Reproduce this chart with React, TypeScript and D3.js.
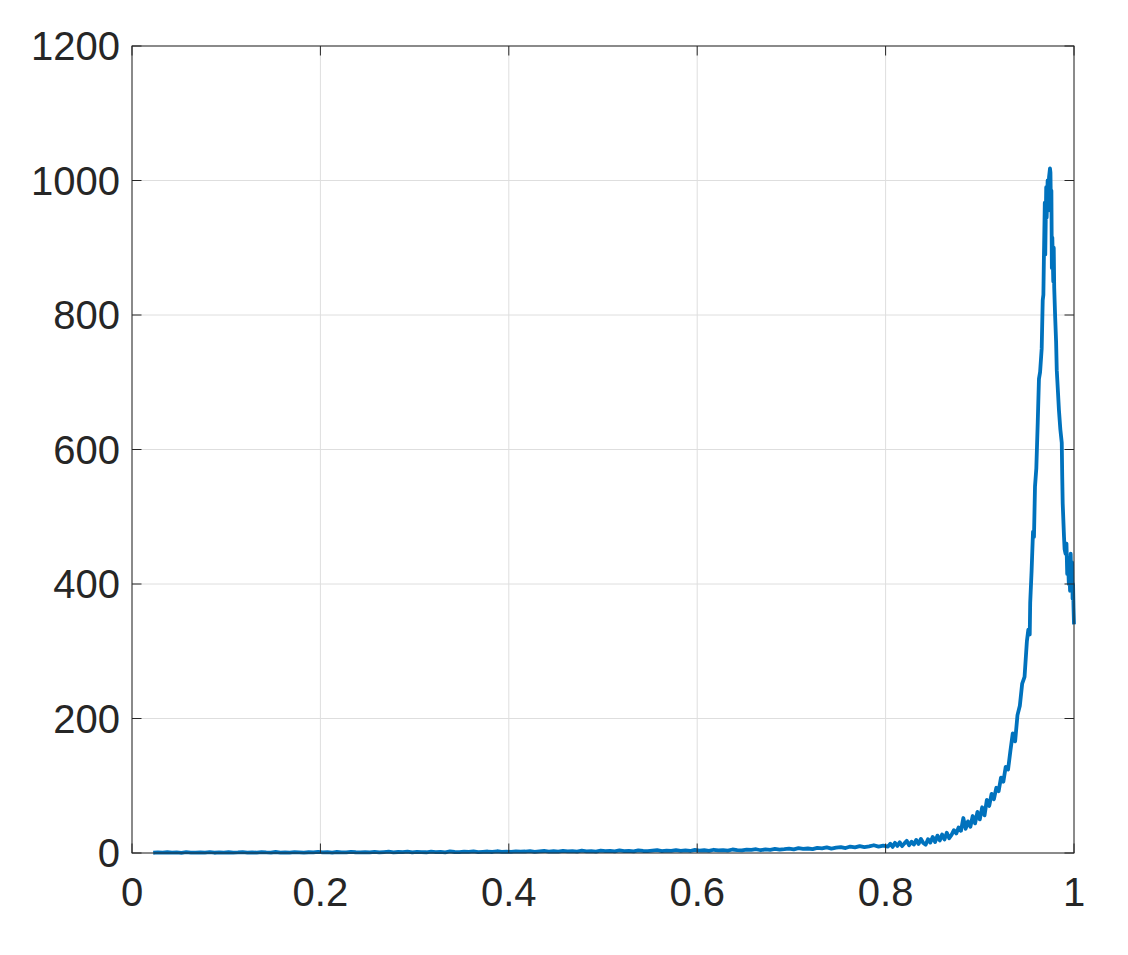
import React from "react";
import * as d3 from "d3";

// ---- data ----
const xTicks = [0, 0.2, 0.4, 0.6, 0.8, 1];
const xTickLabels = ["0", "0.2", "0.4", "0.6", "0.8", "1"];
const yTicks = [0, 200, 400, 600, 800, 1000, 1200];
const yTickLabels = ["0", "200", "400", "600", "800", "1000", "1200"];

// baseline sampled from x = 0.0225 with step 0.005
const baselineStart = 0.0225;
const baselineStep = 0.005;
const baselineY = [
  0.4, 0.8, 0.5, 1.1, 0.6, 0.9, 0.3, 1.2, 0.7, 0.5, 1.0, 0.6, 1.3, 0.4, 0.9, 0.7, 1.1, 0.5, 0.8, 1.4,
  0.6, 0.9, 0.5, 1.2, 0.8, 0.6, 1.5, 0.7, 1.0, 0.5, 1.3, 0.9, 0.6, 1.1, 0.8, 1.6,
  0.9, 1.2, 0.7, 1.5, 1.0, 0.8, 1.8, 1.1, 0.9, 1.4, 1.0, 1.7, 0.8, 1.3, 1.9, 1.0, 1.5, 1.2, 2.1, 0.9,
  1.6, 1.3, 1.1, 2.0, 1.4, 1.8, 1.0, 2.3, 1.5, 1.2, 1.9, 1.6, 2.4, 1.3, 1.8, 2.2, 1.5, 2.6, 1.7, 2.0,
  1.6, 2.5, 1.9, 2.2, 2.8, 1.7, 2.4, 3.0, 2.1, 2.6, 1.9, 3.2, 2.3, 2.8, 2.0, 3.4, 2.5, 2.9, 2.2, 3.6,
  2.7, 3.1, 2.4, 3.8, 2.9, 3.3, 2.5, 4.0, 3.0, 2.7, 3.5, 4.2, 2.8, 3.6, 3.1, 4.4, 3.3, 3.8, 3.0, 4.6,
  3.5, 4.1, 3.2, 4.8, 3.9, 4.4, 3.6, 5.2, 4.2, 3.8, 5.0, 4.5, 5.6, 4.1, 5.3, 4.8, 6.0, 5.1, 5.7, 6.5,
  5.4, 7.2, 6.0, 6.7, 5.8, 7.6, 6.9, 8.4, 6.6, 7.9, 8.8, 7.4, 9.6, 8.3, 10.2, 8.9, 9.8, 11.5, 9.6, 10.8,
];

const riseX = [
  0.8025, 0.805, 0.8075, 0.81, 0.8125, 0.815, 0.8175, 0.82, 0.8225, 0.825, 0.8275, 0.83, 0.8325, 0.835,
  0.8375, 0.84, 0.8425, 0.845, 0.8475, 0.85, 0.8525, 0.855, 0.8575, 0.86, 0.8625, 0.865, 0.8675, 0.87,
  0.8725, 0.875, 0.8775, 0.88, 0.8825, 0.885, 0.8875, 0.89, 0.8925, 0.895, 0.8975, 0.9, 0.9025, 0.905,
  0.9075, 0.91, 0.9125, 0.915, 0.9175, 0.92, 0.9225, 0.925, 0.9275, 0.93, 0.9325, 0.935, 0.9375, 0.94,
  0.9425, 0.945, 0.9475, 0.95, 0.9515, 0.953,
];
const riseY = [
  9.5, 13.8, 9.1, 15.2, 10.6, 16.0, 10.2, 14.3, 18.1, 11.5, 16.8, 12.6, 19.4, 13.5,
  21.0, 14.8, 12.4, 20.6, 15.5, 23.9, 16.4, 25.8, 18.6, 27.5, 20.2, 30.1, 22.0, 27.0,
  34.0, 29.0, 38.0, 33.0, 52.0, 36.0, 47.0, 39.0, 55.0, 44.0, 61.0, 50.0, 68.0, 56.0,
  79.0, 70.0, 88.0, 80.0, 97.0, 92.0, 112.0, 106.0, 128.0, 124.0, 152.0, 178.0, 166.0, 205.0,
  219.0, 252.0, 262.0, 315.0, 332, 325,
];

const peakX = [
  0.9535, 0.955, 0.9565, 0.9575, 0.9586, 0.96, 0.9615, 0.9628, 0.964, 0.9657, 0.9668, 0.9675, 0.968,
  0.969, 0.9695, 0.9705, 0.971, 0.972, 0.9725, 0.9735, 0.9745, 0.975, 0.9755, 0.976, 0.9765, 0.977,
  0.978, 0.9785, 0.979, 0.98, 0.981, 0.9817, 0.983, 0.984, 0.9855, 0.987, 0.9875, 0.988, 0.9894, 0.99,
  0.991, 0.992, 0.9928, 0.9936, 0.9945, 0.995, 0.9958, 0.9965, 0.997, 0.9975, 0.998, 0.9985, 0.999,
  0.9995, 1.0,
];
const peakY = [
  372, 420, 478, 470, 545, 572, 640, 705, 715, 750, 822, 830, 880,
  967, 890, 990, 945, 1000, 955, 1005, 1018, 1012, 960, 985, 870, 915,
  850, 900, 840, 797, 760, 718, 685, 659, 630, 610, 560, 520, 470, 452,
  445, 460, 415, 438, 400, 430, 390, 445, 410, 392, 432, 378, 400,
  365, 340,
];

const W = 1128;
const H = 955;
const M = { left: 132, top: 46, right: 1074, bottom: 853 };

export default function App() {
  const x = d3.scaleLinear().domain([0, 1]).range([M.left, M.right]);
  const y = d3.scaleLinear().domain([0, 1200]).range([M.bottom, M.top]);

  const pts: [number, number][] = [];
  baselineY.forEach((v, i) => pts.push([baselineStart + i * baselineStep, v]));
  riseX.forEach((v, i) => pts.push([v, riseY[i]]));
  peakX.forEach((v, i) => pts.push([v, peakY[i]]));

  const line = d3
    .line<[number, number]>()
    .x((d) => x(d[0]))
    .y((d) => y(d[1]));

  const tickLen = 9.5;
  const axisColor = "#262626";
  const font = "'Liberation Sans', Arial, Helvetica, sans-serif";

  return (
    <svg
      width={W}
      height={H}
      style={{ position: "absolute", left: 0, top: 0, background: "#fff" }}
    >
      <rect x={0} y={0} width={W} height={H} fill="#fff" />
      {/* grid */}
      {xTicks.map((t) => (
        <line key={"gx" + t} x1={x(t)} x2={x(t)} y1={M.top} y2={M.bottom} stroke="#dedede" strokeWidth={1} />
      ))}
      {yTicks.map((t) => (
        <line key={"gy" + t} x1={M.left} x2={M.right} y1={y(t)} y2={y(t)} stroke="#dedede" strokeWidth={1} />
      ))}
      {/* data */}
      <path
        d={line(pts) || ""}
        fill="none"
        stroke="#0072BD"
        strokeWidth={3.8}
        strokeLinejoin="round"
        strokeLinecap="butt"
      />
      {/* box */}
      <rect
        x={M.left}
        y={M.top}
        width={M.right - M.left}
        height={M.bottom - M.top}
        fill="none"
        stroke={axisColor}
        strokeWidth={1}
      />
      {/* ticks */}
      {xTicks.map((t) => (
        <g key={"tx" + t}>
          <line x1={x(t)} x2={x(t)} y1={M.bottom} y2={M.bottom - tickLen} stroke={axisColor} />
          <line x1={x(t)} x2={x(t)} y1={M.top} y2={M.top + tickLen} stroke={axisColor} />
        </g>
      ))}
      {yTicks.map((t) => (
        <g key={"ty" + t}>
          <line x1={M.left} x2={M.left + tickLen} y1={y(t)} y2={y(t)} stroke={axisColor} />
          <line x1={M.right} x2={M.right - tickLen} y1={y(t)} y2={y(t)} stroke={axisColor} />
        </g>
      ))}
      {/* tick labels */}
      {xTicks.map((t, i) => (
        <text
          key={"lx" + t}
          x={x(t)}
          y={906}
          textAnchor="middle"
          fontFamily={font}
          fontSize={40}
          fill="#262626"
        >
          {xTickLabels[i]}
        </text>
      ))}
      {yTicks.map((t, i) => (
        <text
          key={"ly" + t}
          x={120}
          y={y(t)}
          dy="0.36em"
          textAnchor="end"
          fontFamily={font}
          fontSize={40}
          fill="#262626"
        >
          {yTickLabels[i]}
        </text>
      ))}
    </svg>
  );
}
